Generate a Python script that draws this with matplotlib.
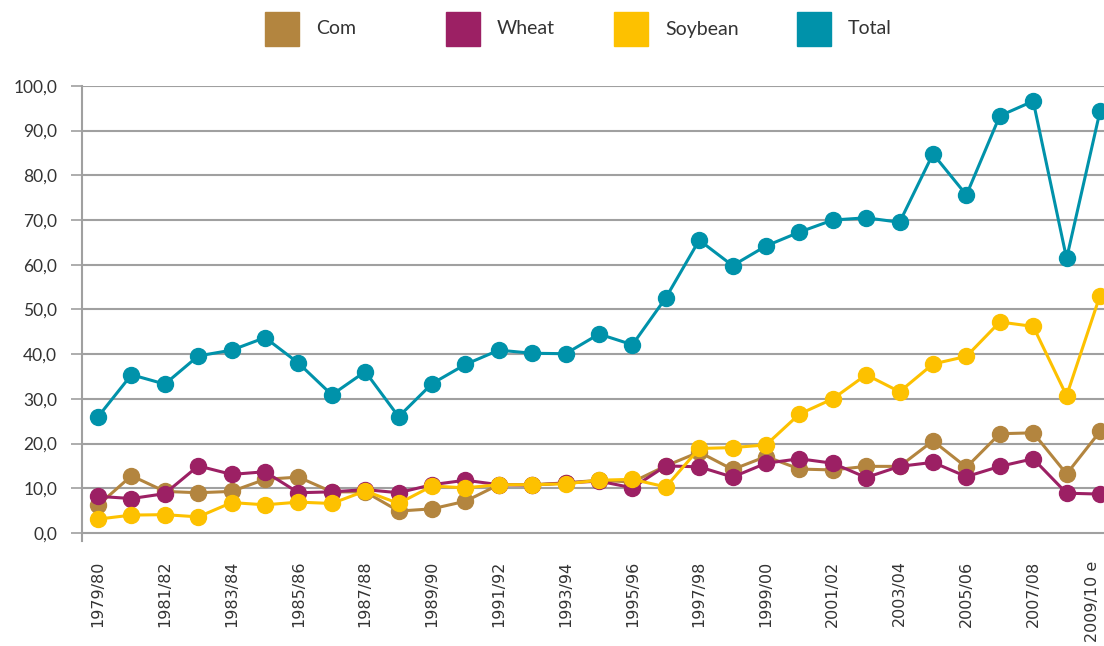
import matplotlib
matplotlib.use("Agg")
import matplotlib.pyplot as plt
from matplotlib.patches import Rectangle

years = ["1979/80", "1980/81", "1981/82", "1982/83", "1983/84", "1984/85", "1985/86",
         "1986/87", "1987/88", "1988/89", "1989/90", "1990/91", "1991/92", "1992/93",
         "1993/94", "1994/95", "1995/96", "1996/97", "1997/98", "1998/99", "1999/00",
         "2000/01", "2001/02", "2002/03", "2003/04", "2004/05", "2005/06", "2006/07",
         "2007/08", "2008/09", "2009/10 e"]

corn = [6.2, 12.8, 9.3, 9.0, 9.3, 12.0, 12.5, 9.2, 9.2, 4.9, 5.4, 7.1, 10.8, 10.8,
        11.2, 11.8, 11.4, 15.0, 18.1, 14.2, 17.1, 14.3, 14.1, 14.9, 14.9, 20.6,
        14.7, 22.2, 22.4, 13.2, 22.7]
wheat = [8.2, 7.7, 8.8, 15.0, 13.1, 13.7, 9.0, 9.2, 9.7, 9.0, 10.8, 11.8, 10.8, 10.7,
         11.2, 11.6, 10.1, 15.0, 14.8, 12.5, 15.6, 16.6, 15.6, 12.4, 14.9, 15.8,
         12.6, 14.9, 16.6, 8.9, 8.7]
soybean = [3.1, 4.0, 4.1, 3.6, 6.8, 6.3, 6.9, 6.6, 9.4, 6.6, 10.5, 10.1, 10.8, 10.8,
           11.0, 11.8, 12.0, 10.3, 18.9, 19.1, 19.7, 26.6, 30.0, 35.4, 31.6, 37.8,
           39.5, 47.2, 46.2, 30.7, 53.1]
total = [26.0, 35.4, 33.3, 39.6, 40.9, 43.7, 38.0, 30.9, 36.1, 26.0, 33.4, 37.7,
         40.9, 40.2, 40.1, 44.5, 42.1, 52.6, 65.5, 59.8, 64.2, 67.3, 70.0, 70.5,
         69.5, 84.8, 75.6, 93.3, 96.6, 61.4, 94.3]

names = ["Com", "Wheat", "Soybean", "Total"]
colors = ["#B3853F", "#9C2064", "#FDC100", "#0092AA"]

fig = plt.figure(figsize=(11.04, 6.46), dpi=100)
ax = fig.add_axes([0.0743, 0.1625, 0.9257, 0.7045])

x = list(range(len(years)))
for vals, c in zip([corn, wheat, soybean, total], colors):
    ax.plot(x, vals, color=c, lw=2.2, marker="o", markersize=11.5, zorder=3)

ax.set_xlim(-0.48, 30.12)
ax.set_ylim(-1.8, 100)
ax.set_yticks(range(0, 101, 10))
ax.set_yticklabels([f"{v},0" for v in range(0, 101, 10)],
                   fontsize=12.5, color="#333333", family="Lato")
ax.yaxis.grid(True, color="#A0A0A0", lw=1.5)
ax.set_axisbelow(True)
ax.tick_params(axis="y", length=8, color="#A0A0A0", width=1.2, pad=10)

# only every other season is labelled
ax.set_xticks(x[::2])
labels = ax.set_xticklabels(years[::2], rotation=90, fontsize=11.5, color="#333333",
                            family="DejaVu Sans")
labels[-1].set_ha("right")  # keep the last one inside the figure
ax.tick_params(axis="x", length=0, pad=14)

for s in ["top", "right", "bottom"]:
    ax.spines[s].set_visible(False)
ax.spines["left"].set_color("#A0A0A0")
ax.spines["left"].set_linewidth(1.5)

# legend on top
leg_x = [265, 446, 614, 797]
for lx, c, n in zip(leg_x, colors, names):
    fig.add_artist(Rectangle((lx / 1104, 1 - 46 / 646), 34 / 1104, 34 / 646,
                             transform=fig.transFigure, color=c))
    fig.text((lx + 51) / 1104, 1 - 29 / 646, n, fontsize=14, color="#333333",
             family="Lato", va="center")

fig.savefig("out.png", dpi=100)
